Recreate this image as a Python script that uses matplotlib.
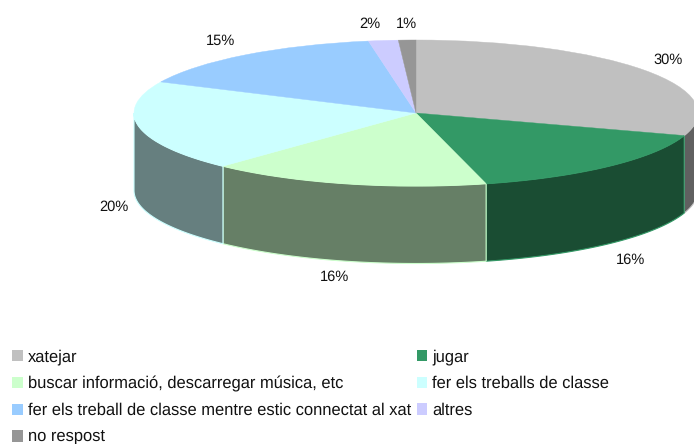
import numpy as np
import matplotlib
matplotlib.use("Agg")
import matplotlib.pyplot as plt
from matplotlib.patches import Patch

plt.rcParams['font.family'] = ['Liberation Sans', 'DejaVu Sans']
plt.rcParams['text.hinting'] = 'none'

# data
categories = ["xatejar", "jugar", "buscar informació, descarregar música, etc",
              "fer els treballs de classe",
              "fer els treball de classe mentre estic connectat al xat",
              "altres", "no respost"]
values = [30.0, 16.0, 16.0, 20.0, 15.3, 1.7, 1.0]
pct_labels = ["30%", "16%", "16%", "20%", "15%", "2%", "1%"]
colors = ["#C0C0C0", "#339966", "#CCFFCC", "#CCFFFF", "#99CCFF", "#CCCCFF", "#969696"]
side_colors = ["#606060", "#1A4D33", "#667F66", "#667F7F", "#4D667F", "#66667F", "#4B4B4B"]

# where things sit in the 694x444 picture (pixels)
W, H = 694, 444
cx, cy = 416, 113
rx, ry = 282, 73
depth = 77.5
label_pos = [(668, 60), (631, 260), (335, 277), (114, 207), (221, 41), (370, 24), (406, 24)]

fig = plt.figure(figsize=(W / 100, H / 100), dpi=100)
ax = fig.add_axes([0, 0, 1, 1])

# side wall, only the front half of the ellipse is visible
edges = np.concatenate([[0], np.cumsum(values)]) / sum(values) * 360
d = depth / ry
for i in range(len(values)):
    a0, a1 = max(edges[i], 90), min(edges[i + 1], 270)
    if a1 <= a0:
        continue
    t = np.radians(np.linspace(a0, a1, 80))
    xs = np.sin(t)
    ys = np.cos(t)
    ax.fill(np.r_[xs, xs[::-1]], np.r_[ys, ys[::-1] - d],
            facecolor=side_colors[i], edgecolor=colors[i], linewidth=0.8)

wedges, _ = ax.pie(values, colors=colors, startangle=90, counterclock=False)
for w, c in zip(wedges, colors):
    w.set_edgecolor(c)
    w.set_linewidth(0.3)

# pie forces equal aspect, the chart is a flat ellipse
ax.set_aspect("auto")
ax.set_xlim(-cx / rx, (W - cx) / rx)
ax.set_ylim((cy - H) / ry, cy / ry)
ax.axis("off")

for (px, py), txt in zip(label_pos, pct_labels):
    fig.text(px / W, 1 - py / H, txt, fontsize=10.5, color="#111111", ha="center", va="center")

# legend fills column first, reference reads row by row
order = [0, 2, 4, 6, 1, 3, 5]
handles = [Patch(facecolor=colors[i], edgecolor="none", label=categories[i]) for i in order]
fig.legend(handles=handles, ncol=2, loc="upper left", bbox_to_anchor=(12 / W, 1 - 349 / H),
           bbox_transform=fig.transFigure, frameon=False, fontsize=11.9, borderpad=0,
           borderaxespad=0, handlelength=0.66, handleheight=0.66, handletextpad=0.3,
           labelspacing=0.66, columnspacing=0.33, labelcolor="#111111")

fig.savefig("out.png", dpi=100)
